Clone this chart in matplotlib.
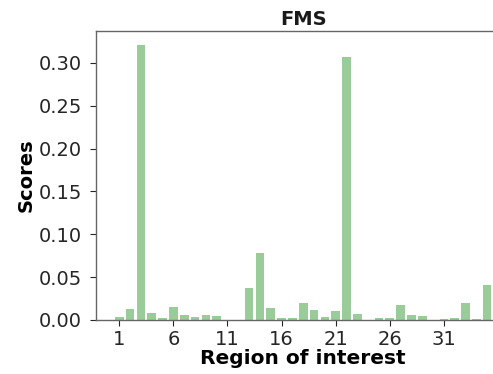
import matplotlib
matplotlib.use('Agg')
import matplotlib.pyplot as plt

# FMS score for each region of interest (1..35)
regions = list(range(1, 36))
scores = [0.0035, 0.013, 0.321, 0.0085, 0.002, 0.015, 0.006, 0.0035, 0.006, 0.005,
          0.0, 0.0, 0.037, 0.0787, 0.0144, 0.002, 0.002, 0.0195, 0.0113, 0.004,
          0.0105, 0.3066, 0.007, 0.0005, 0.002, 0.0025, 0.018, 0.006, 0.0047, 0.0005,
          0.001, 0.002, 0.0203, 0.001, 0.041]
tick_regions = [1, 6, 11, 16, 21, 26, 31]

plt.rcParams['font.family'] = 'DejaVu Sans'
fig = plt.figure(figsize=(4.93, 3.74), dpi=100)
ax = fig.add_axes([0.195, 0.1444, 0.84, 0.7727])

ax.bar(regions, scores, width=0.8, color='green', alpha=0.4)
ax.set_xticks(tick_regions)
ax.set_yticks([0.0, 0.05, 0.10, 0.15, 0.20, 0.25, 0.30])
ax.set_yticklabels(['0.00', '0.05', '0.10', '0.15', '0.20', '0.25', '0.30'])
ax.tick_params(labelsize=14, colors='0.15', length=4, pad=3)
ax.tick_params(axis='y', pad=6)

ax.set_title('FMS', fontsize=14, fontweight='bold', color='0.1', pad=4)
ax.set_xlabel('Region of interest', fontsize=14.5, fontweight='bold', labelpad=0)
ax.set_ylabel('Scores', fontsize=14, fontweight='bold', labelpad=2)

for side in ax.spines.values():
    side.set_color('0.4')
    side.set_linewidth(1.0)

fig.savefig('out.png', dpi=100)
